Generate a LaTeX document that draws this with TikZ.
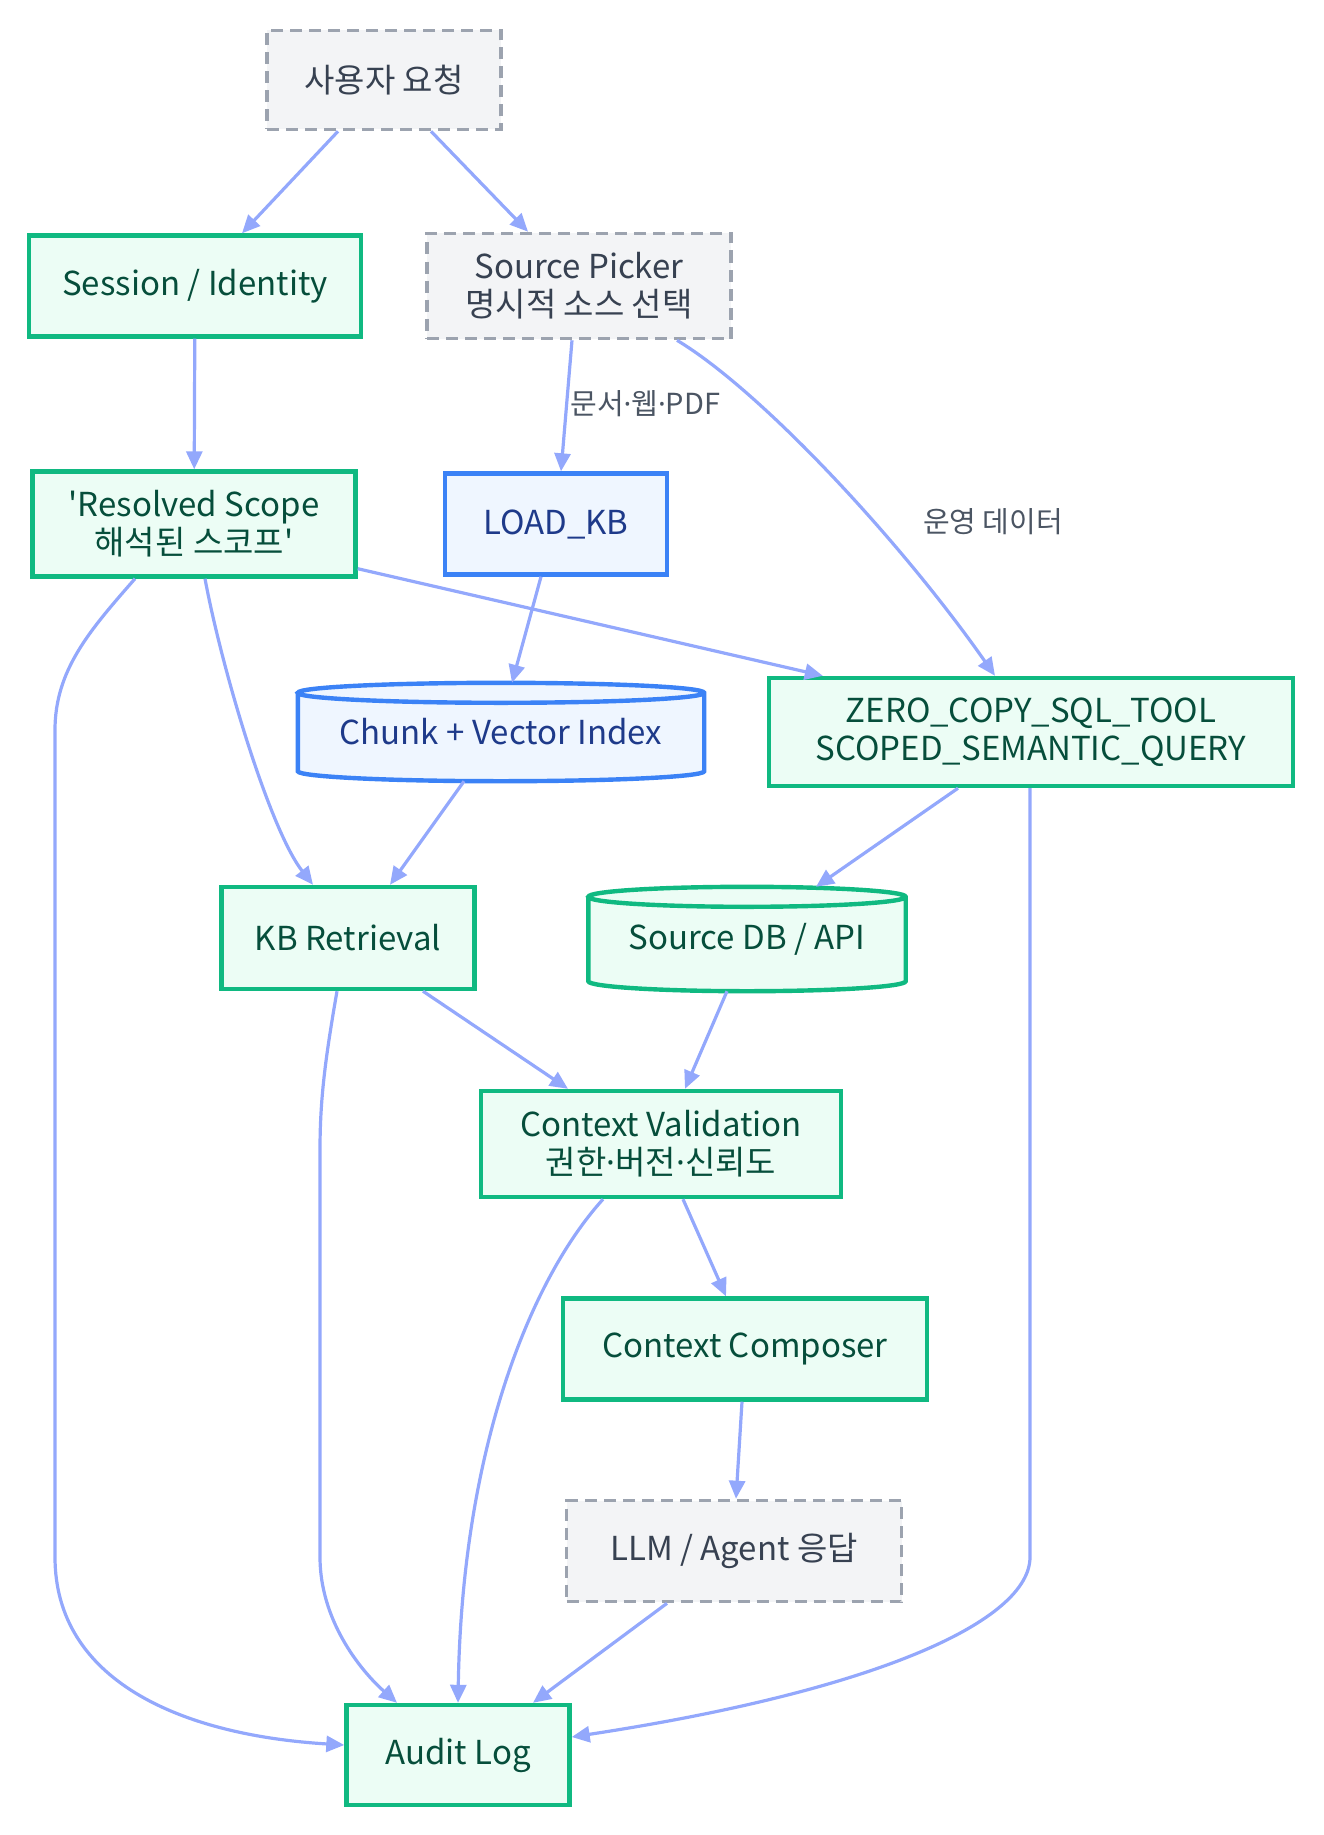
\documentclass[tikz,border=0pt]{standalone}
\usepackage{fontspec}
\setmainfont{Noto Sans CJK KR}
\newfontfamily\dotfont{Noto Sans}
\usetikzlibrary{arrows.meta, calc, backgrounds}

\definecolor{okline}{HTML}{10B981}
\definecolor{okfill}{HTML}{ECFDF5}
\definecolor{oktext}{HTML}{064E3B}
\definecolor{kbline}{HTML}{3B82F6}
\definecolor{kbfill}{HTML}{EFF6FF}
\definecolor{kbtext}{HTML}{1E3A8A}
\definecolor{extline}{HTML}{9CA3AF}
\definecolor{extfill}{HTML}{F3F4F6}
\definecolor{exttext}{HTML}{374151}
\definecolor{flow}{HTML}{93A8FC}
\definecolor{lbltext}{HTML}{4B5563}

\newcommand{\md}{{\dotfont ·}}

\tikzset{
  box/.style={rectangle, line width=2.2pt, font=\fontsize{16.5}{19}\selectfont, align=center, inner sep=0pt},
  guard/.style={box, draw=okline, fill=okfill, text=oktext},
  kb/.style={box, draw=kbline, fill=kbfill, text=kbtext},
  ext/.style={box, line width=1.8pt, draw=extline, fill=extfill, text=exttext, dash pattern=on 6pt off 3.5pt},
  store/.style={box, text=#1},
  flowline/.style={draw=flow, line width=1.6pt, -{Triangle[length=9pt,width=8pt]}},
  elabel/.style={font=\fontsize{14.5}{16}\selectfont, text=lbltext, inner sep=1pt}
}

% cylinder behind a plain node: name, fill, line
\newcommand{\storecyl}[3]{%
  \fill[#2] let \p1=(#1.north west), \p2=(#1.south east), \n1={(\x2-\x1)/2} in
    (\x1,\y1-5pt) -- (\x1,\y2+5pt) arc[start angle=180, end angle=360, x radius=\n1, y radius=5pt]
    -- (\x2,\y1-5pt) arc[start angle=0, end angle=180, x radius=\n1, y radius=5pt] -- cycle;
  \draw[#3, line width=2.2pt] let \p1=(#1.north west), \p2=(#1.south east), \n1={(\x2-\x1)/2} in
    (\x1,\y1-5pt) -- (\x1,\y2+5pt) arc[start angle=180, end angle=360, x radius=\n1, y radius=5pt]
    -- (\x2,\y1-5pt) arc[start angle=0, end angle=180, x radius=\n1, y radius=5pt]
    arc[start angle=180, end angle=360, x radius=\n1, y radius=5pt];
}

\begin{document}
\begin{tikzpicture}[x=0.5pt, y=-0.5pt]
  \useasboundingbox (0,0) rectangle (1323,1835);

  % nodes
  \node[ext, minimum width=117pt, minimum height=49.5pt] (user) at (384,80) {사용자 요청};
  \node[guard, minimum width=166pt, minimum height=50.5pt] (session) at (195,286) {Session / Identity};
  \node[ext, minimum width=152pt, minimum height=52.5pt] (picker) at (579,286) {Source Picker\\명시적 소스 선택};
  \node[guard, minimum width=161.5pt, minimum height=52.5pt] (scope) at (194,524) {\textquotesingle Resolved Scope\\해석된 스코프\textquotesingle};
  \node[kb, minimum width=111pt, minimum height=50.5pt] (loadkb) at (556,524) {LOAD\_KB};
  \node[store=kbtext, minimum width=201pt, minimum height=47pt] (chunk) at (501,732) {Chunk + Vector Index};
  \node[guard, minimum width=262pt, minimum height=54pt] (zero) at (1031,732) {ZERO\_COPY\_SQL\_TOOL\\SCOPED\_SEMANTIC\_QUERY};
  \node[guard, minimum width=126.5pt, minimum height=51pt] (kbret) at (348,938) {KB Retrieval};
  \node[store=oktext, minimum width=156.5pt, minimum height=50pt] (srcdb) at (747,939) {Source DB / API};
  \node[guard, minimum width=180pt, minimum height=53pt] (ctxval) at (661,1144) {Context Validation\\권한\md 버전\md 신뢰도};
  \node[guard, minimum width=182pt, minimum height=50.5pt] (composer) at (745,1349) {Context Composer};
  \node[ext, minimum width=167.5pt, minimum height=50.5pt] (llm) at (734,1551) {LLM / Agent 응답};
  \node[guard, minimum width=111.5pt, minimum height=50pt] (audit) at (458,1755) {Audit Log};

  \begin{scope}[on background layer]
    \storecyl{chunk}{kbfill}{kbline}
    \storecyl{srcdb}{okfill}{okline}
  \end{scope}

  % connectors
  \draw[flowline] ([xshift=-23pt]user.south) -- ([xshift=23.5pt]session.north);
  \draw[flowline] ([xshift=23.5pt]user.south) -- ([xshift=-25.5pt]picker.north);
  \draw[flowline] (session) -- (scope);
  \draw[flowline] ([xshift=-3.5pt]picker.south) -- node[elabel, anchor=west, pos=0.48] (doclbl) {문서\md 웹\md PDF} ([xshift=2.5pt]loadkb.north);
  \draw[flowline] ([xshift=49pt]picker.south) .. controls (760,390) and (900,540) .. ([xshift=-18pt]zero.north);
  \node[elabel] (oplbl) at (993,522) {운영 데이터};
  \draw[flowline] ([yshift=5pt]scope.south east) -- ([xshift=28pt]zero.north west);
  \draw[flowline] ([xshift=5.5pt]scope.south) .. controls (222,670) and (270,830) .. ([xshift=-17.5pt]kbret.north);
  \draw[flowline] ([xshift=-29.5pt]scope.south) .. controls (90,630) and (55,670) .. (55,730) -- (55,1557)
    .. controls (55,1680) and (180,1735) .. ([yshift=5pt]audit.west);
  \draw[flowline] ([xshift=-7.5pt]loadkb.south) -- ([xshift=5.5pt]chunk.north);
  \draw[flowline] ([xshift=-18.5pt]chunk.south) -- ([xshift=21pt]kbret.north);
  \draw[flowline] ([xshift=-36.5pt]zero.south) -- ([xshift=34.5pt]srcdb.north);
  \draw[flowline] ([xshift=-0.5pt]zero.south) -- (1030,1557)
    .. controls (1030,1620) and (880,1690) .. ([yshift=9pt]audit.east);
  \draw[flowline] ([xshift=37.5pt]kbret.south) -- ([xshift=-46.5pt]ctxval.north);
  \draw[flowline] ([xshift=-5.5pt]kbret.south) .. controls (325,1060) and (320,1100) .. (320,1150) -- (320,1557)
    .. controls (320,1620) and (360,1670) .. ([xshift=-30.5pt]audit.north);
  \draw[flowline] ([xshift=-10pt]srcdb.south) -- ([xshift=12pt]ctxval.north);
  \draw[flowline] ([xshift=11pt]ctxval.south) -- ([xshift=-9.5pt]composer.north);
  \draw[flowline] ([xshift=-29pt]ctxval.south) .. controls (530,1280) and (462,1450) .. (audit.north);
  \draw[flowline] ([xshift=-1.5pt]composer.south) -- ([xshift=1pt]llm.north);
  \draw[flowline] ([xshift=-33.5pt]llm.south) -- ([xshift=37.5pt]audit.north);
\end{tikzpicture}
\end{document}
